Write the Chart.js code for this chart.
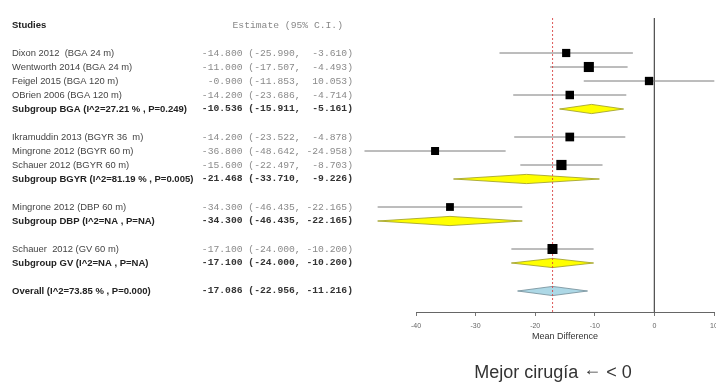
<!DOCTYPE html>
<html>
<head>
<meta charset="utf-8">
<script src="https://cdn.jsdelivr.net/npm/chart.js@4.4.0/dist/chart.umd.min.js"></script>
<style>
  html, body { margin: 0; padding: 0; background: #fff; overflow: hidden; }
  body { width: 716px; height: 382px; position: relative; }
  #wrap { position: absolute; left: 0; top: 0; width: 760px; height: 382px; }
  #note {
    position: absolute; top: 362px; left: 553px; transform: translateX(-50%);
    font-family: "Liberation Sans", Arial, sans-serif; font-size: 18px; color: #333;
    white-space: nowrap;
  }
  #note span { position: relative; top: -3px; }
</style>
</head>
<body>
<div id="wrap"><canvas id="forest"></canvas></div>
<div id="note">Mejor cirugía <span>←</span> &lt; 0</div>
<script>
// individual studies
const studyNames = [
    'Dixon 2012  (BGA 24 m)', 'Wentworth 2014 (BGA 24 m)', 'Feigel 2015 (BGA 120 m)', 'OBrien 2006 (BGA 120 m)',
    'Ikramuddin 2013 (BGYR 36  m)', 'Mingrone 2012 (BGYR 60 m)', 'Schauer 2012 (BGYR 60 m)',
    'Mingrone 2012 (DBP 60 m)', 'Schauer  2012 (GV 60 m)'
];
const studyRows = [2, 3, 4, 5, 8, 9, 10, 13, 16];
const studyEst = [-14.8, -11.0, -0.9, -14.2, -14.2, -36.8, -15.6, -34.3, -17.1];
const studyLo = [-25.99, -17.507, -11.853, -23.686, -23.522, -48.642, -22.497, -46.435, -24.0];
const studyHi = [-3.61, -4.493, 10.053, -4.714, -4.878, -24.958, -8.703, -22.165, -10.2];
const studyWeights = [10.5, 15.2, 10.8, 11.2, 11.8, 10.0, 15.5, 9.5, 15.0];

// subgroups + overall
const poolNames = [
    'Subgroup BGA (I^2=27.21 % , P=0.249)', 'Subgroup BGYR (I^2=81.19 % , P=0.005)',
    'Subgroup DBP (I^2=NA , P=NA)', 'Subgroup GV (I^2=NA , P=NA)', 'Overall (I^2=73.85 % , P=0.000)'
];
const poolRows = [6, 11, 14, 17, 19];
const poolEst = [-10.536, -21.468, -34.3, -17.1, -17.086];
const poolLo = [-15.911, -33.71, -46.435, -24.0, -22.956];
const poolHi = [-5.161, -9.226, -22.165, -10.2, -11.216];

const xTicks = [-40, -30, -20, -10, 0, 10];
const rowMin = -0.5, rowMax = 20.5;

const fmt = v => v.toFixed(3).padStart(7, ' ');
const estText = (e, l, h) => `${fmt(e)} (${fmt(l)}, ${fmt(h)})`;

const ciSets = studyRows.map((r, i) => ({
    data: [{ x: studyLo[i], y: r }, { x: studyHi[i], y: r }],
    showLine: true, borderColor: '#7a7a7a', borderWidth: 1, pointRadius: 0, clip: false, order: 4
}));

const boxSet = {
    data: studyRows.map((r, i) => ({ x: studyEst[i], y: r })),
    pointStyle: 'rect', backgroundColor: '#000', borderWidth: 0, clip: false, order: 1,
    pointRadius: studyWeights.map(w => (4 + w * 0.4) / (2 * Math.SQRT1_2))
};

const zeroLine = {
    data: [{ x: 0, y: rowMin }, { x: 0, y: rowMax }],
    showLine: true, borderColor: '#555', borderWidth: 1, pointRadius: 0, order: 5
};
const overallLine = {
    data: [{ x: poolEst[4], y: rowMin }, { x: poolEst[4], y: rowMax }],
    showLine: true, borderColor: 'rgba(215,60,60,0.85)', borderWidth: 1, borderDash: [2, 2], pointRadius: 0, order: 2
};

// pooled diamonds, drawn under the datasets so the reference lines cross them
const diamondPlugin = {
    id: 'diamonds',
    beforeDatasetsDraw(chart) {
        const ctx = chart.ctx, x = chart.scales.x, y = chart.scales.y;
        const h = 0.33;
        ctx.save();
        poolRows.forEach((r, i) => {
            const last = i === poolRows.length - 1;
            ctx.beginPath();
            ctx.moveTo(x.getPixelForValue(poolLo[i]), y.getPixelForValue(r));
            ctx.lineTo(x.getPixelForValue(poolEst[i]), y.getPixelForValue(r - h));
            ctx.lineTo(x.getPixelForValue(poolHi[i]), y.getPixelForValue(r));
            ctx.lineTo(x.getPixelForValue(poolEst[i]), y.getPixelForValue(r + h));
            ctx.closePath();
            ctx.fillStyle = last ? '#add8e6' : '#ffff00';
            ctx.fill();
            ctx.lineWidth = 0.8;
            ctx.strokeStyle = last ? '#6f8a95' : '#9a9a20';
            ctx.stroke();
        });
        ctx.restore();
    }
};

// left-hand table drawn at the row positions of the y scale
const tablePlugin = {
    id: 'table',
    afterDraw(chart) {
        const ctx = chart.ctx, y = chart.scales.y;
        ctx.save();
        ctx.textBaseline = 'middle';
        const sans = '"Liberation Sans", Arial, sans-serif';
        const mono = '"Liberation Mono", "Courier New", monospace';

        ctx.font = `bold 9.5px ${sans}`;
        ctx.fillStyle = '#222';
        ctx.textAlign = 'left';
        ctx.fillText('Studies', 12, y.getPixelForValue(0));
        ctx.font = `9.7px ${mono}`;
        ctx.fillStyle = '#888';
        ctx.textAlign = 'right';
        ctx.fillText('Estimate (95% C.I.)', 343, y.getPixelForValue(0));

        studyNames.forEach((n, i) => {
            const py = y.getPixelForValue(studyRows[i]);
            ctx.textAlign = 'left';
            ctx.font = `9.4px ${sans}`;
            ctx.fillStyle = '#444';
            ctx.fillText(n, 12, py);
            ctx.textAlign = 'right';
            ctx.font = `9.7px ${mono}`;
            ctx.fillStyle = '#8a8a8a';
            ctx.fillText(estText(studyEst[i], studyLo[i], studyHi[i]), 353, py);
        });
        poolNames.forEach((n, i) => {
            const py = y.getPixelForValue(poolRows[i]);
            ctx.textAlign = 'left';
            ctx.font = `bold 9.5px ${sans}`;
            ctx.fillStyle = '#222';
            ctx.fillText(n, 12, py);
            ctx.textAlign = 'right';
            ctx.font = `bold 9.7px ${mono}`;
            ctx.fillStyle = '#333';
            ctx.fillText(estText(poolEst[i], poolLo[i], poolHi[i]), 353, py);
        });
        ctx.restore();
    }
};

new Chart(document.getElementById('forest'), {
    type: 'scatter',
    data: { datasets: [zeroLine, overallLine, ...ciSets, boxSet] },
    options: {
        responsive: true,
        maintainAspectRatio: false,
        animation: false,
        layout: { padding: { left: 416, right: 46, top: 18, bottom: 38 } },
        plugins: { legend: { display: false }, tooltip: { enabled: false } },
        scales: {
            x: {
                type: 'linear', min: xTicks[0], max: xTicks[xTicks.length - 1],
                afterBuildTicks: s => { s.ticks = xTicks.map(v => ({ value: v })); },
                afterFit: s => { s.height = 32; },
                ticks: { color: '#666', font: { size: 7, family: '"Liberation Sans", Arial' }, padding: 6, maxRotation: 0 },
                grid: { drawOnChartArea: false, drawTicks: true, tickLength: 4, color: '#777' },
                border: { display: true, color: '#666', width: 1 },
                title: {
                    display: true, text: 'Mean Difference', color: '#333',
                    font: { size: 9, family: '"Liberation Sans", Arial' }, padding: { top: 0, bottom: 2 }
                }
            },
            y: { type: 'linear', reverse: true, min: rowMin, max: rowMax, display: false }
        }
    },
    plugins: [diamondPlugin, tablePlugin]
});
</script>
</body>
</html>
